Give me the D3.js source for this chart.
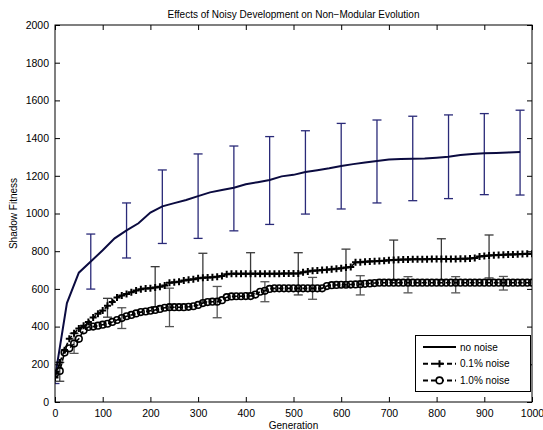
<!DOCTYPE html>
<html>
<head>
<meta charset="utf-8">
<script src="https://cdn.jsdelivr.net/npm/d3@7"></script>
<style>
  body { margin: 0; background: #fff; }
  text { font-family: "Liberation Sans", Arial, sans-serif; fill: #000; }
</style>
</head>
<body>
<div id="chart"></div>
<script>
// --- data ---
const noNoiseGen = [0, 25, 50, 75, 100, 125, 150, 175, 200, 225, 250, 275, 300, 325, 350, 375, 400, 425, 450, 475, 500,
  525, 550, 575, 600, 625, 650, 675, 700, 725, 750, 775, 800, 825, 850, 875, 900, 925, 950, 975]
const noNoise = [130, 525, 686, 745, 805, 868, 910, 948, 1005, 1038, 1055, 1072, 1092, 1112, 1125, 1137, 1155, 1166, 1178, 1197, 1205,
  1220, 1230, 1240, 1252, 1262, 1271, 1278, 1286, 1289, 1291, 1292, 1296, 1301, 1310, 1316, 1319, 1321, 1324, 1326]

// 0.1% and 1.0% noise, one value every 10 generations (0..1000)
const noiseGen = d3.range(0, 1001, 10)
const noise01 = [130, 210, 275, 335, 365, 390, 405, 425, 448, 468,
  485, 510, 530, 555, 565, 573, 582, 592, 598, 602,
  604, 608, 612, 618, 632, 635, 638, 644, 648, 651,
  656, 659, 660, 662, 665, 668, 678, 681, 681, 681,
  681, 681, 681, 681, 681, 681, 681, 681, 682, 682,
  682, 682, 688, 692, 696, 698, 700, 702, 704, 707,
  710, 713, 716, 741, 742, 744, 746, 747, 748, 750,
  752, 753, 755, 756, 756, 757, 757, 757, 757, 758,
  758, 758, 758, 759, 759, 760, 760, 761, 764, 772,
  775, 777, 779, 780, 781, 782, 783, 784, 785, 786, 787]
const noise10 = [150, 165, 262, 285, 310, 335, 380, 398, 400, 405,
  410, 415, 425, 435, 445, 455, 462, 470, 477, 480,
  484, 488, 494, 500, 503, 503, 503, 503, 505, 508,
  515, 525, 530, 532, 532, 540, 556, 560, 561, 561,
  562, 562, 570, 585, 590, 600, 603, 603, 603, 603,
  603, 603, 603, 603, 603, 603, 603, 615, 620, 621,
  622, 622, 623, 624, 625, 627, 629, 631, 633, 633,
  633, 633, 633, 633, 633, 633, 633, 633, 633, 633,
  633, 633, 633, 633, 633, 633, 633, 633, 633, 633,
  633, 633, 633, 633, 633, 633, 633, 633, 633, 633, 633]

// error bars: generation, centre, half-width
const noNoiseErrGen = [0, 75, 150, 225, 300, 375, 450, 525, 600, 675, 750, 825, 900, 975]
const noNoiseErrMid = [130, 745, 910, 1036, 1092, 1133, 1175, 1218, 1251, 1276, 1292, 1301, 1315, 1323]
const noNoiseErr = [32, 146, 146, 195, 224, 225, 233, 221, 227, 220, 224, 222, 215, 225]

const noise01ErrGen = [10, 110, 210, 310, 410, 510, 610, 710, 810, 910]
const noise01ErrMid = [160, 500, 612, 660, 684, 680, 712, 752, 757, 772]
const noise01Err = [50, 50, 106, 129, 108, 112, 99, 107, 109, 114]

const noise10ErrGen = [40, 140, 240, 340, 440, 540, 640, 740, 840, 940]
const noise10ErrMid = [311, 445, 502, 530, 585, 603, 619, 622, 622, 630]
const noise10Err = [53, 55, 102, 83, 53, 58, 51, 43, 43, 36]

const xTicks = d3.range(0, 1001, 100)
const yTicks = d3.range(0, 2001, 200)
const legendLabels = ['no noise', '0.1% noise', '1.0% noise']

// --- layout ---
const width = 543, height = 430
const pL = 55, pR = 532, pT = 25, pB = 402

const svg = d3.select('#chart').append('svg')
  .attr('width', width)
  .attr('height', height)

const x = d3.scaleLinear().domain([0, 1000]).range([pL, pR])
const y = d3.scaleLinear().domain([0, 2000]).range([pB, pT])

// clip to plot area
svg.append('clipPath').attr('id', 'clip')
  .append('rect').attr('x', pL).attr('y', pT).attr('width', pR - pL).attr('height', pB - pT)
const plot = svg.append('g').attr('clip-path', 'url(#clip)')

function errorBars(g, gens, mids, errs, color, cap) {
  const eb = g.append('g').selectAll('g').data(gens).enter().append('g')
    .attr('stroke', color).attr('stroke-width', 1.3)
  eb.append('line')
    .attr('x1', d => x(d)).attr('x2', d => x(d))
    .attr('y1', (d, i) => y(mids[i] + errs[i])).attr('y2', (d, i) => y(mids[i] - errs[i]))
  eb.append('line')
    .attr('x1', d => x(d) - cap).attr('x2', d => x(d) + cap)
    .attr('y1', (d, i) => y(mids[i] + errs[i])).attr('y2', (d, i) => y(mids[i] + errs[i]))
  eb.append('line')
    .attr('x1', d => x(d) - cap).attr('x2', d => x(d) + cap)
    .attr('y1', (d, i) => y(mids[i] - errs[i])).attr('y2', (d, i) => y(mids[i] - errs[i]))
}

const line = d3.line().x(d => x(d[0])).y(d => y(d[1]))

// error bars first
errorBars(plot, noNoiseErrGen, noNoiseErrMid, noNoiseErr, '#2a2a78', 4.5)
errorBars(plot, noise01ErrGen, noise01ErrMid, noise01Err, '#3a3a3a', 4.5)
errorBars(plot, noise10ErrGen, noise10ErrMid, noise10Err, '#555555', 4.5)

// no noise line
plot.append('path')
  .datum(d3.zip(noNoiseGen, noNoise))
  .attr('fill', 'none').attr('stroke', '#0b0b40').attr('stroke-width', 2)
  .attr('d', line)

// 0.1% noise: dashed line + plus markers
plot.append('path')
  .datum(d3.zip(noiseGen, noise01))
  .attr('fill', 'none').attr('stroke', '#000').attr('stroke-width', 1.6)
  .attr('stroke-dasharray', '5,3')
  .attr('d', line)
plot.append('g').selectAll('path').data(d3.zip(noiseGen, noise01)).enter()
  .append('path')
  .attr('transform', d => `translate(${x(d[0])},${y(d[1])})`)
  .attr('d', 'M-3.5,0H3.5M0,-3.5V3.5')
  .attr('stroke', '#000').attr('stroke-width', 2)

// 1.0% noise: dashed line + circle markers
plot.append('path')
  .datum(d3.zip(noiseGen, noise10))
  .attr('fill', 'none').attr('stroke', '#000').attr('stroke-width', 1.6)
  .attr('stroke-dasharray', '5,3')
  .attr('d', line)
plot.append('g').selectAll('circle').data(d3.zip(noiseGen, noise10)).enter()
  .append('circle')
  .attr('cx', d => x(d[0])).attr('cy', d => y(d[1]))
  .attr('r', 3.3)
  .attr('fill', 'none').attr('stroke', '#000').attr('stroke-width', 1.6)

// --- axes (MATLAB style box with inward ticks) ---
svg.append('g').attr('transform', `translate(0,${pB})`)
  .call(d3.axisBottom(x).tickValues(xTicks).tickSize(-5).tickPadding(8).tickFormat(d3.format('d')))
svg.append('g').attr('transform', `translate(0,${pT})`)
  .call(d3.axisTop(x).tickValues(xTicks).tickSize(-5).tickFormat(''))
svg.append('g').attr('transform', `translate(${pL},0)`)
  .call(d3.axisLeft(y).tickValues(yTicks).tickSize(-5).tickPadding(6).tickFormat(d3.format('d')))
svg.append('g').attr('transform', `translate(${pR},0)`)
  .call(d3.axisRight(y).tickValues(yTicks).tickSize(-5).tickFormat(''))

svg.selectAll('.domain').remove()
svg.selectAll('.tick line').attr('stroke', '#000')
svg.selectAll('.tick text').attr('font-size', 10.5).attr('font-family', '"Liberation Sans", Arial, sans-serif')

svg.append('rect')
  .attr('x', pL).attr('y', pT).attr('width', pR - pL).attr('height', pB - pT)
  .attr('fill', 'none').attr('stroke', '#000').attr('stroke-width', 1)

// titles
svg.append('text').attr('x', (pL + pR) / 2).attr('y', 18)
  .attr('text-anchor', 'middle').attr('font-size', 10)
  .text('Effects of Noisy Development on Non\u2212Modular Evolution')
svg.append('text').attr('x', (pL + pR) / 2).attr('y', 429)
  .attr('text-anchor', 'middle').attr('font-size', 10)
  .text('Generation')
svg.append('text')
  .attr('transform', `translate(17,${(pT + pB) / 2}) rotate(-90)`)
  .attr('text-anchor', 'middle').attr('font-size', 10)
  .text('Shadow Fitness')

// legend
const lg = svg.append('g')
lg.append('rect').attr('x', 415.5).attr('y', 335.5).attr('width', 115).attr('height', 56)
  .attr('fill', '#fff').attr('stroke', '#000').attr('stroke-width', 1)
const rows = lg.selectAll('g.row').data(legendLabels).enter().append('g')
  .attr('transform', (d, i) => `translate(0,${347 + i * 16.7})`)
rows.append('line').attr('x1', 423).attr('x2', 456).attr('y1', 0).attr('y2', 0)
  .attr('stroke', '#000').attr('stroke-width', 2)
  .attr('stroke-dasharray', (d, i) => i === 0 ? null : '5,3')
rows.filter((d, i) => i === 1).append('path')
  .attr('d', 'M436,0H443M439.5,-3.5V3.5').attr('stroke', '#000').attr('stroke-width', 2)
rows.filter((d, i) => i === 2).append('circle')
  .attr('cx', 439.5).attr('cy', 0).attr('r', 3.3)
  .attr('fill', '#fff').attr('stroke', '#000').attr('stroke-width', 1.6)
rows.append('text').attr('x', 460).attr('y', 3.6).attr('font-size', 10)
  .text(d => d)
</script>
</body>
</html>
